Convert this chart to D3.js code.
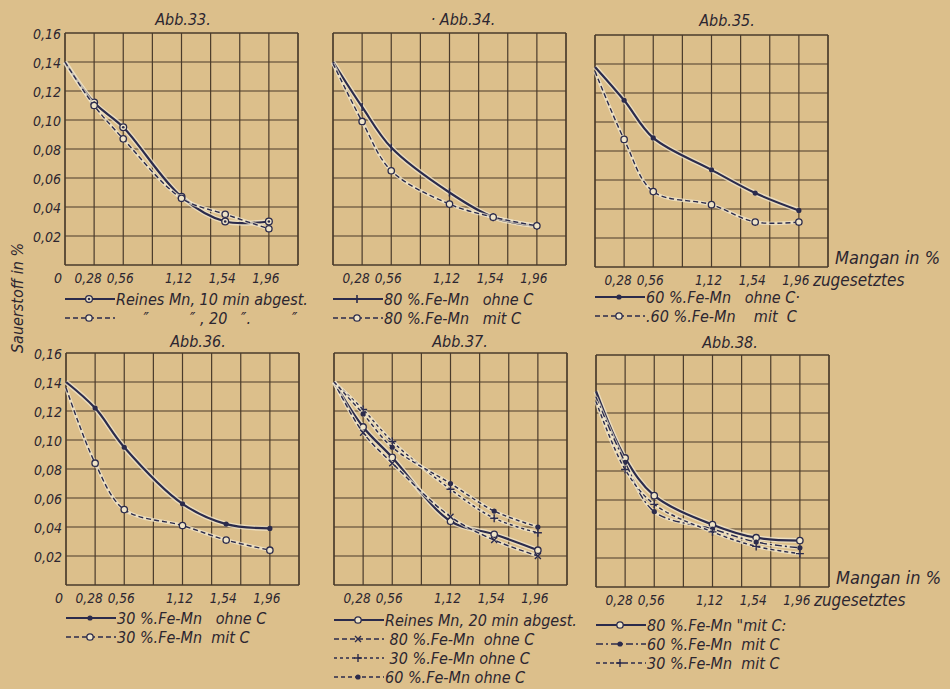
<html>

<head>
    <meta charset="UTF-8">
    <script src="https://d3js.org/d3.v7.min.js"></script>
    <title>Sauerstoff / Mangan</title>
    <style>
        body { margin: 0; background: #dcbf8b; }
        text {
            font-family: "DejaVu Sans Condensed", "DejaVu Sans", sans-serif;
            font-style: italic;
            fill: #2c2630;
        }
    </style>
</head>

<body>
    <svg width="950" height="689"></svg>

    <script>
        // zugesetztes Mangan in % (x-Werte der Messpunkte)
        const mangan = [0, 0.28, 0.56, 1.12, 1.54, 1.96];
        const xTicks = [0.28, 0.56, 1.12, 1.54, 1.96];
        const xTickLabels = ['0,28', '0,56', '1,12', '1,54', '1,96'];
        const yTicks = [0.02, 0.04, 0.06, 0.08, 0.10, 0.12, 0.14, 0.16];
        const yTickLabels = ['0,02', '0,04', '0,06', '0,08', '0,10', '0,12', '0,14', '0,16'];

        // Sauerstoff in % — Abb. 33
        const reinMn10 = [0.140, 0.112, 0.095, 0.047, 0.030, 0.030];
        const reinMn20 = [0.140, 0.110, 0.087, 0.046, 0.035, 0.025];
        // Abb. 34
        const fe80ohne = [0.140, 0.109, 0.081, 0.050, 0.033, 0.027];
        const fe80mit = [0.139, 0.099, 0.065, 0.042, 0.033, 0.027];
        // Abb. 35
        const fe60ohne = [0.138, 0.115, 0.089, 0.067, 0.051, 0.039];
        const fe60mit = [0.135, 0.088, 0.052, 0.043, 0.031, 0.031];
        // Abb. 36
        const fe30ohne = [0.140, 0.122, 0.095, 0.056, 0.042, 0.039];
        const fe30mit = [0.136, 0.084, 0.052, 0.041, 0.031, 0.024];
        // Abb. 37 (ohne C)
        const a37rein = [0.140, 0.109, 0.088, 0.044, 0.035, 0.024];
        const a37fe80 = [0.140, 0.105, 0.084, 0.047, 0.031, 0.020];
        const a37fe30 = [0.140, 0.121, 0.099, 0.066, 0.046, 0.036];
        const a37fe60 = [0.140, 0.118, 0.095, 0.070, 0.051, 0.040];
        // Abb. 38 (mit C)
        const a38fe80 = [0.135, 0.089, 0.063, 0.043, 0.034, 0.032];
        const a38fe60 = [0.131, 0.086, 0.052, 0.040, 0.031, 0.027];
        const a38fe30 = [0.128, 0.081, 0.057, 0.038, 0.028, 0.023];

        const ink = '#2b2b4c';
        const gridColor = '#4a3b2b';
        const paper = '#dcbf8b';
        const W = 233, H = 232;
        const nb = '\u00a0';

        // Panels: Lage, Titel, Kurven
        const panels = [
            {
                title: 'Abb.33.', left: 65, top: 33, titleX: 183, titleY: 25, yLabels: true, legendY: 299,
                series: [
                    { data: reinMn10, dash: null, marker: 'dotcircle', label: 'Reines Mn, 10 min abgest.' },
                    { data: reinMn20, dash: '5,3', marker: 'circle', label: nb.repeat(6) + '″' + nb.repeat(9) + '″' + nb + ', 20' + nb.repeat(3) + '″.' + nb.repeat(9) + '″' }
                ]
            },
            {
                title: '·  Abb.34.', left: 333, top: 33, titleX: 463, titleY: 25, yLabels: false, legendY: 299,
                series: [
                    { data: fe80ohne, dash: null, marker: 'tick', label: '80 %.Fe-Mn' + nb.repeat(3) + 'ohne C' },
                    { data: fe80mit, dash: '5,3', marker: 'circle', label: '80 %.Fe-Mn' + nb.repeat(3) + 'mit  C' }
                ]
            },
            {
                title: 'Abb.35.', left: 595, top: 35, titleX: 727, titleY: 26, yLabels: false, legendY: 297, mangan: true,
                series: [
                    { data: fe60ohne, dash: null, marker: 'dot', label: '60 %.Fe-Mn' + nb.repeat(3) + 'ohne C·' },
                    { data: fe60mit, dash: '5,3', marker: 'circle', label: '.60 %.Fe-Mn' + nb.repeat(4) + 'mit' + nb + ' C' }
                ]
            },
            {
                title: 'Abb.36.', left: 66, top: 353, titleX: 198, titleY: 347, yLabels: true, legendY: 618,
                series: [
                    { data: fe30ohne, dash: null, marker: 'dot', label: '30 %.Fe-Mn' + nb.repeat(3) + 'ohne C' },
                    { data: fe30mit, dash: '5,3', marker: 'circle', label: '30 %.Fe-Mn' + nb.repeat(2) + 'mit C' }
                ]
            },
            {
                title: 'Abb.37.', left: 334, top: 353, titleX: 460, titleY: 347, yLabels: false, legendY: 620,
                series: [
                    { data: a37rein, dash: null, marker: 'circle', label: 'Reines Mn, 20 min abgest.' },
                    { data: a37fe80, dash: '5,3', marker: 'cross', label: nb + '80 %.Fe-Mn' + nb + ' ohne C' },
                    { data: a37fe30, dash: '3,3', marker: 'plus', label: nb + '30 %.Fe-Mn' + nb + 'ohne C' },
                    { data: a37fe60, dash: '4,3', marker: 'dot', label: '60 %.Fe-Mn' + nb + 'ohne C' }
                ]
            },
            {
                title: 'Abb.38.', left: 596, top: 355, titleX: 730, titleY: 348, yLabels: false, legendY: 625, mangan: true,
                series: [
                    { data: a38fe80, dash: null, marker: 'circle', label: '80 %.Fe-Mn' + nb + '"mit C:' },
                    { data: a38fe60, dash: '7,3,2,3', marker: 'dot', label: '60 %.Fe-Mn' + nb + nb + 'mit C' },
                    { data: a38fe30, dash: '4,3', marker: 'plus', label: '30 %.Fe-Mn' + nb + nb + 'mit C' }
                ]
            }
        ];

        const svg = d3.select('svg');
        svg.append('rect').attr('width', 950).attr('height', 689).attr('fill', paper);

        const x = d3.scaleLinear().domain([0, 2.24]).range([0, W]);
        const y = d3.scaleLinear().domain([0, 0.16]).range([H, 0]);
        const kurve = d3.line()
            .x((d, i) => x(mangan[i]))
            .y(d => y(d))
            .curve(d3.curveCatmullRom.alpha(0.5));

        function marker(g, type, cx, cy) {
            if (type === 'circle') {
                g.append('circle').attr('cx', cx).attr('cy', cy).attr('r', 3.2)
                    .attr('fill', '#efe4c8').attr('stroke', ink).attr('stroke-width', 1.3);
            } else if (type === 'dotcircle') {
                g.append('circle').attr('cx', cx).attr('cy', cy).attr('r', 3.4)
                    .attr('fill', '#efe4c8').attr('stroke', ink).attr('stroke-width', 1.3);
                g.append('circle').attr('cx', cx).attr('cy', cy).attr('r', 1.3).attr('fill', ink);
            } else if (type === 'dot') {
                g.append('circle').attr('cx', cx).attr('cy', cy).attr('r', 2.6).attr('fill', ink);
            } else if (type === 'tick') {
                g.append('line').attr('x1', cx).attr('x2', cx).attr('y1', cy - 4).attr('y2', cy + 4)
                    .attr('stroke', ink).attr('stroke-width', 1.6);
            } else if (type === 'cross') {
                g.append('path').attr('d', `M${cx - 3},${cy - 3}L${cx + 3},${cy + 3}M${cx - 3},${cy + 3}L${cx + 3},${cy - 3}`)
                    .attr('stroke', ink).attr('stroke-width', 1.4);
            } else if (type === 'plus') {
                g.append('path').attr('d', `M${cx - 4},${cy}L${cx + 4},${cy}M${cx},${cy - 4}L${cx},${cy + 4}`)
                    .attr('stroke', ink).attr('stroke-width', 1.4);
            }
        }

        panels.forEach(function (p) {
            const g = svg.append('g').attr('transform', `translate(${p.left},${p.top})`);

            // Gitter 8 x 8
            g.selectAll('.vgrid')
                .data(d3.range(0, 9).map(i => i * 0.28))
                .join('line')
                .attr('x1', d => x(d)).attr('x2', d => x(d))
                .attr('y1', 0).attr('y2', H)
                .attr('stroke', gridColor).attr('stroke-width', (d, i) => (i === 0 || i === 8) ? 1.7 : 1.2);
            g.selectAll('.hgrid')
                .data(d3.range(0, 9).map(i => i * 0.02))
                .join('line')
                .attr('x1', 0).attr('x2', W)
                .attr('y1', d => y(d)).attr('y2', d => y(d))
                .attr('stroke', gridColor).attr('stroke-width', (d, i) => (i === 0 || i === 8) ? 1.7 : 1.2);

            // Kurven
            p.series.forEach(function (s) {
                g.append('path').attr('d', kurve(s.data))
                    .attr('fill', 'none').attr('stroke', '#f2e8d0').attr('stroke-opacity', 0.75)
                    .attr('stroke-width', s.dash ? 3.5 : 5);
                g.append('path').attr('d', kurve(s.data))
                    .attr('fill', 'none').attr('stroke', ink)
                    .attr('stroke-width', s.dash ? 1.4 : 2.2)
                    .attr('stroke-dasharray', s.dash);
                s.data.forEach(function (v, i) {
                    if (i > 0) marker(g, s.marker, x(mangan[i]), y(v));
                });
            });

            // Titel
            svg.append('text').attr('x', p.titleX).attr('y', p.titleY)
                .attr('text-anchor', 'middle').style('font-size', '16px').text(p.title);

            // x-Beschriftung
            g.selectAll('.xlab')
                .data(xTicks)
                .join('text')
                .attr('x', (d, i) => x(d) - (i === 0 ? 6 : 3))
                .attr('y', H + 18)
                .attr('text-anchor', 'middle')
                .style('font-size', '13.5px')
                .text((d, i) => xTickLabels[i]);

            if (p.yLabels) {
                g.selectAll('.ylab')
                    .data(yTicks)
                    .join('text')
                    .attr('x', -4)
                    .attr('y', d => y(d) + 6)
                    .attr('text-anchor', 'end')
                    .style('font-size', '14px')
                    .text((d, i) => yTickLabels[i]);
                g.append('text').attr('x', -7).attr('y', H + 18)
                    .attr('text-anchor', 'middle').style('font-size', '14px').text('0');
            }

            if (p.mangan) {
                g.append('text').attr('x', W + 7).attr('y', H - 3)
                    .style('font-size', '18px').text('Mangan in %');
                g.append('text').attr('x', x(1.96) + 14).attr('y', H + 19)
                    .style('font-size', '17px').text('zugesetztes');
            }

            // Legende
            p.series.forEach(function (s, i) {
                const ly = p.legendY + i * 19 - p.top;
                g.append('line').attr('x1', 0).attr('x2', 50).attr('y1', ly).attr('y2', ly)
                    .attr('stroke', ink).attr('stroke-width', s.dash ? 1.3 : 1.8)
                    .attr('stroke-dasharray', s.dash);
                marker(g, s.marker, 24, ly);
                g.append('text').attr('x', 51).attr('y', ly + 6)
                    .style('font-size', '16px').text(s.label);
            });
        });

        // y-Achsentitel
        svg.append('text')
            .attr('transform', 'translate(23,298) rotate(-90)')
            .attr('text-anchor', 'middle')
            .style('font-size', '16px')
            .text('Sauerstoff in %');
    </script>
</body>

</html>
